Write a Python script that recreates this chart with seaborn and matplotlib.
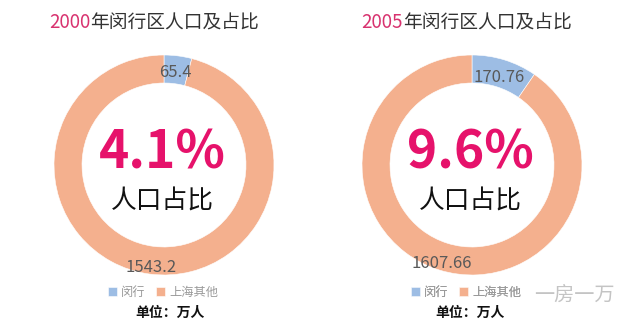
import matplotlib
matplotlib.use("Agg")
import matplotlib.pyplot as plt
import numpy as np
import seaborn as sns

sns.set_theme(style="white")
plt.rcParams["font.family"] = ["Noto Sans CJK SC", "DejaVu Sans"]

# Population of Minhang district vs. the rest of Shanghai (unit: 10k people)
years = ["2000", "2005"]
categories = ["闵行", "上海其他"]
minhang = [65.4, 170.76]
rest_of_shanghai = [1543.2, 1607.66]
share_labels = ["4.1%", "9.6%"]

palette = ["#9DBDE4", "#F4B08E"]
pink_title = "#D8326F"
pink_big = "#E6126B"

W, H = 640, 327
fig = plt.figure(figsize=(6.4, 3.27), dpi=100)
ax = fig.add_axes([0, 0, 1, 1])
ax.set_xlim(0, W)
ax.set_ylim(0, H)
ax.set_aspect("equal")
ax.axis("off")

centers_x = [164, 472]
center_y = 165
r_out, ring = 110, 28
title_split = [90, 403]
label_r = [[93, 103], [92, 103]]
legend_x = [163, 466]
unit_x = [170, 470]


def Y(y):
    return H - y


for i in range(2):
    cx = centers_x[i]
    vals = [minhang[i], rest_of_shanghai[i]]
    wedges, _ = ax.pie(
        vals,
        colors=palette,
        startangle=90,
        counterclock=False,
        radius=r_out,
        center=(cx, Y(center_y)),
        wedgeprops=dict(width=ring, edgecolor="white", linewidth=0.4),
        frame=True,
    )
    # value labels at each wedge's mid-angle
    for j, (w, v) in enumerate(zip(wedges, vals)):
        ang = np.deg2rad((w.theta1 + w.theta2) / 2)
        rr = label_r[i][j]
        ax.text(cx + rr * np.cos(ang), Y(center_y) + rr * np.sin(ang),
                f"{v:g}", ha="center", va="center", fontsize=12,
                color="#595959")

    # centre text
    ax.text(cx - 2, Y(153), share_labels[i], ha="center", va="center",
            fontsize=37, fontweight="bold", color=pink_big)
    ax.text(cx - 2, Y(202), "人口占比", ha="center", va="center",
            fontsize=18.5, color="#111111")

    # title
    ax.text(title_split[i], Y(23), years[i], ha="right", va="center",
            fontsize=13.5, color=pink_title)
    ax.text(title_split[i], Y(23), "年闵行区人口及占比", ha="left", va="center",
            fontsize=13.5, color="#333333")

    # legend
    leg = ax.legend(wedges, categories, ncol=2, frameon=False, loc="center",
                    bbox_to_anchor=(legend_x[i], Y(292)),
                    bbox_transform=ax.transData, fontsize=8.8,
                    labelcolor="#9a9a9a", handlelength=0.75, handleheight=0.75,
                    handletextpad=0.35, columnspacing=0.8, borderpad=0)
    ax.add_artist(leg)

    ax.text(unit_x[i], Y(313), "单位：万人", ha="center", va="center",
            fontsize=10, fontweight="bold", color="#111111")

ax.set_xlim(0, W)
ax.set_ylim(0, H)

# account watermark
ax.text(574, Y(295), "一房一万", ha="center", va="center", fontsize=14.5,
        color="#c4c4c4", fontweight="light")

fig.savefig("out.png", dpi=100, facecolor="white")
